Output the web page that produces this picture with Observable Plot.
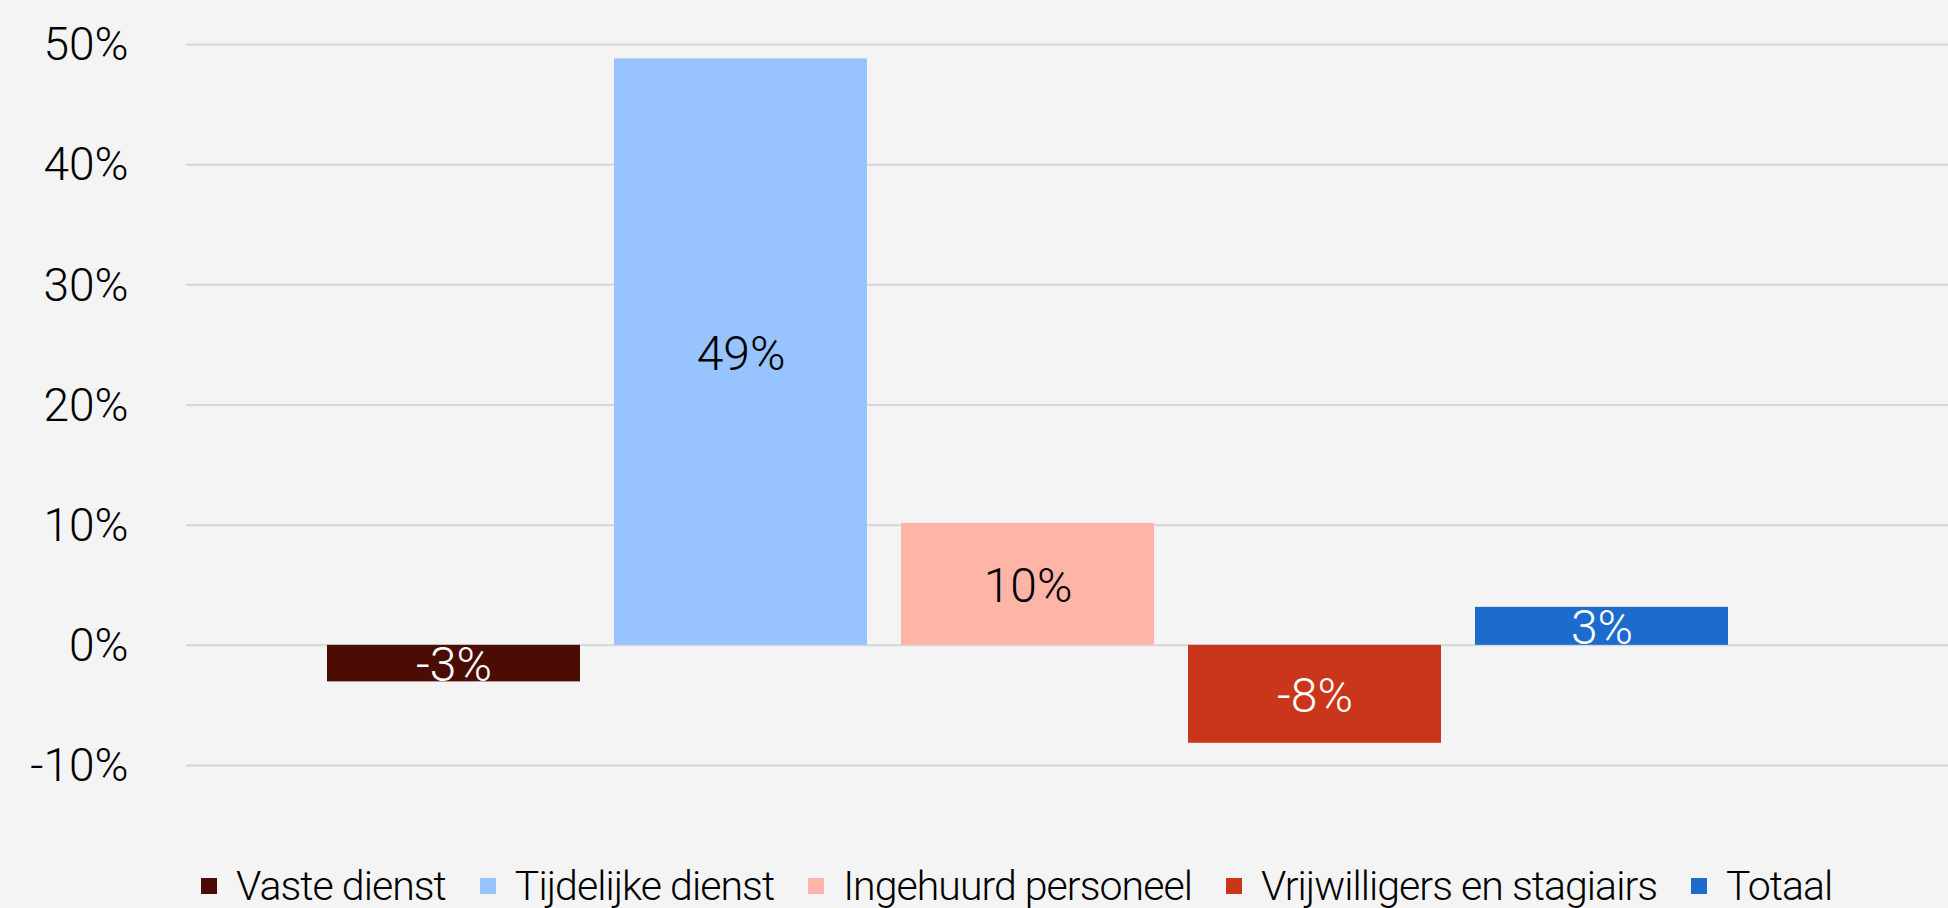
<!DOCTYPE html>
<html>
<head>
<meta charset="utf-8">
<script src="https://cdn.jsdelivr.net/npm/d3@7"></script>
<script src="https://cdn.jsdelivr.net/npm/@observablehq/plot@0.6"></script>
<style>
  html, body { margin: 0; padding: 0; background: #f4f4f4; overflow: hidden; }
  #chart svg { display: block; background: #f4f4f4; }
  #legend {
    height: 46px; overflow: hidden; box-sizing: border-box;
    padding-top: 2px; padding-left: 201px;
    display: flex; align-items: center;
    font-family: Roboto, "Noto Sans", sans-serif; font-weight: 300;
    font-size: 41px; line-height: 41px; color: #000; letter-spacing: -0.95px;
  }
  .item { display: flex; align-items: center; margin-right: 34px; white-space: nowrap; }
  .sw { width: 16px; height: 16px; margin-right: 19px; flex: none; }
</style>
</head>
<body>
<div id="chart"></div>
<div id="legend"></div>
<script>
// ---- data ----
const categories = ["Vaste dienst", "Tijdelijke dienst", "Ingehuurd personeel", "Vrijwilligers en stagiairs", "Totaal"];
const values = [-3.04, 48.8, 10.15, -8.15, 3.16];
const yTicks = [-10, 0, 10, 20, 30, 40, 50];

// ---- styles ----
const colors = ["#4a0c03", "#97c3fe", "#feb5a8", "#c9361b", "#1c6bcd"];
const labelColors = ["#ffffff", "#000000", "#000000", "#ffffff", "#ffffff"];

const rows = categories.map((c, i) => ({category: c, value: values[i], label: `${Math.round(values[i])}%`, textColor: labelColors[i]}));

const W = 1948, H = 862;
const chart = Plot.plot({
  width: W,
  height: H,
  marginLeft: 186,
  marginRight: 0,
  marginTop: 44,
  marginBottom: 97,
  style: {background: "#f4f4f4", fontFamily: "Roboto, 'Noto Sans', sans-serif"},
  x: {domain: categories, range: [326, 1730], paddingInner: 0.118, paddingOuter: 0, axis: null},
  y: {domain: [-10, 50], axis: null},
  color: {domain: categories, range: colors},
  marks: [
    Plot.ruleY(yTicks, {stroke: "#d6d6d6", strokeWidth: 2}),
    Plot.barY(rows, {x: "category", y1: 0, y2: "value", fill: "category"}),
    Plot.text(rows, {x: "category", y: d => d.value / 2, text: "label", fill: "textColor",
      fontSize: 48, fontWeight: 300, dy: 2}),
    Plot.axisY(yTicks, {tickSize: 0, tickPadding: 58, tickFormat: d => `${d}%`,
      fontSize: 46, fontWeight: 300, fill: "#000", label: null, dy: 1})
  ]
});
document.getElementById("chart").appendChild(chart);

const legend = document.getElementById("legend");
categories.forEach((c, i) => {
  const item = document.createElement("div");
  item.className = "item";
  const sw = document.createElement("span");
  sw.className = "sw";
  sw.style.background = colors[i];
  const t = document.createElement("span");
  t.textContent = c;
  item.appendChild(sw);
  item.appendChild(t);
  legend.appendChild(item);
});
</script>
</body>
</html>
